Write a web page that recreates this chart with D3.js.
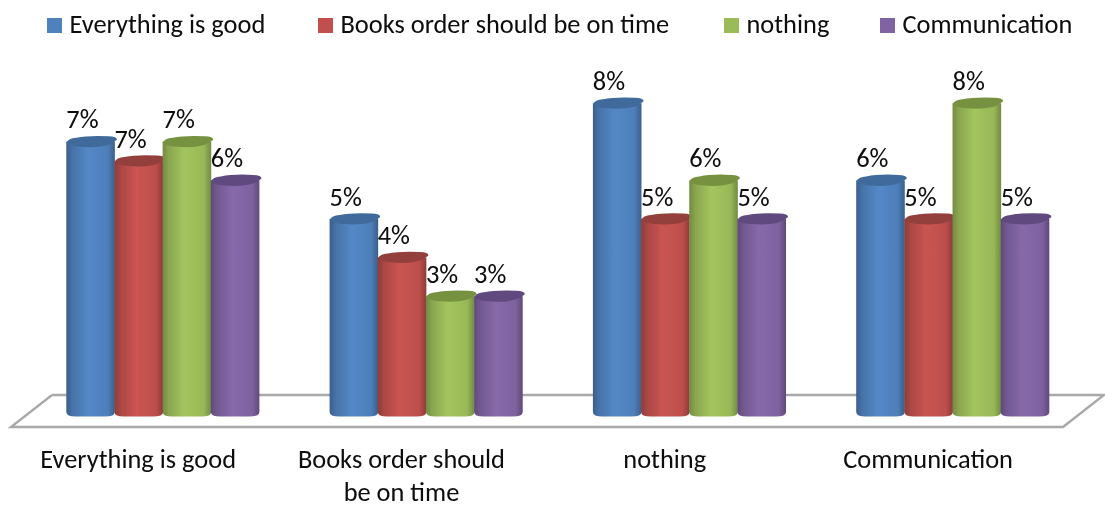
<!DOCTYPE html>
<html><head><meta charset="utf-8">
<script src="https://cdn.jsdelivr.net/npm/d3@7/dist/d3.min.js"></script>
<style>html,body{margin:0;padding:0;background:#fff;overflow:hidden}text{font-family:Carlito,Lato,"Open Sans",sans-serif;fill:#0a0a0a}</style>
</head><body><svg id="c" width="1105" height="507"></svg>
<script>
const categories = ["Everything is good","Books order should be on time","nothing","Communication"];
const seriesNames = ["Everything is good","Books order should be on time","nothing","Communication"];
const everythingGood = [7,5,8,6];
const booksOnTime = [6.5,4,5,5];
const nothingVals = [7,3,6,8];
const communication = [6,3,5,5];
const allSeries = [everythingGood,booksOnTime,nothingVals,communication];
const bodyColors = ["#4f81bd","#c0504d","#9bbb59","#8064a2"];
const capColors = ["#3f6a9b","#933f3c","#76923f","#5f4a7e"];
const legendX = [47,318,724,880];

const svg = d3.select("#c");
const fs = 26.4;
const defs = svg.append("defs");
const blur = defs.append("filter").attr("id","soft").attr("x","-5%").attr("y","-5%").attr("width","110%").attr("height","110%");
blur.append("feGaussianBlur").attr("stdDeviation",0.7);
const tblur = defs.append("filter").attr("id","softT");
tblur.append("feGaussianBlur").attr("stdDeviation",0.35);

bodyColors.forEach((c,i)=>{
  const g = defs.append("linearGradient").attr("id","g"+i);
  const base = d3.color(c);
  [[0,base.darker(0.85)],[0.12,base.darker(0.35)],[0.45,base.brighter(0.14)],[0.85,base.darker(0.05)],[1,base.darker(0.85)]]
    .forEach(([o,col])=>g.append("stop").attr("offset",o).attr("stop-color",col.formatHex()));
});

const x0 = d3.scaleBand().domain(d3.range(categories.length)).range([31,1084.2]);
const x1 = d3.scaleBand().domain(d3.range(seriesNames.length)).range([35.3,228]);
const y = d3.scaleLinear().domain([0,8]).range([412,103.2]);
const xLabel = d3.scaleBand().domain(categories).range([7,1060.2]);

// floor
const floor = d3.line()([[52,395],[1104,395],[1063,427],[11,427],[52,395]]);
svg.append("path").attr("d",floor).attr("fill","#fff").attr("stroke","#a9a9a9").attr("stroke-width",2.4).attr("filter","url(#soft)");

// bars
const bars = svg.append("g").attr("filter","url(#soft)");
const bw = x1.bandwidth();
categories.forEach((cat,ci)=>{
  allSeries.forEach((vals,si)=>{
    const left = x0(ci)+x1(si), top = y(vals[ci]), base = y(0), right = left+bw;
    const rx = bw/2, g = bars.append("g");
    g.append("path")
      .attr("d",`M${left},${top} V${base} Q${left},${base+4.5} ${left+rx*0.4},${base+4.5} H${left+rx*1.6} Q${right+0.4},${base+4.5} ${right+0.4},${base} V${top} Z`)
      .attr("fill",`url(#g${si})`);
    g.append("path")
      .attr("d",`M${left},${top+1} Q${left+2},${top-3.5} ${left+10},${top-4}
        Q${left+22},${top-6.5} ${right-6},${top-5.5}
        Q${right+2.5},${top-5.5} ${right+2.5},${top-2}
        Q${right-5},${top+5.5} ${left+rx},${top+5.5}
        Q${left+3},${top+5} ${left},${top+1} Z`)
      .attr("fill",capColors[si]);
  });
});

// data labels
const labels = svg.append("g").attr("filter","url(#softT)");
categories.forEach((cat,ci)=>{
  allSeries.forEach((vals,si)=>{
    labels.append("text").attr("x",x0(ci)+x1(si)+bw/2-8).attr("y",y(vals[ci])-13.5)
      .attr("text-anchor","middle").attr("font-size",fs).text(Math.round(vals[ci])+"%");
  });
});

// category axis
const axis = svg.append("g").attr("transform","translate(0,468)").attr("filter","url(#softT)")
  .call(d3.axisBottom(xLabel).tickSize(0).tickPadding(0).tickFormat(""));
axis.select(".domain").remove();
const wrapped = {"Books order should be on time":["Books order should","be on time"]};
axis.selectAll(".tick").each(function(d){
  const t = d3.select(this).select("text").attr("font-size",fs).attr("y",0).attr("dy",null).attr("text-anchor","middle");
  t.text(null);
  (wrapped[d]||[d]).forEach((l,i)=>t.append("tspan").attr("x",-0.5).attr("y",i*33).text(l));
});
axis.attr("font-family",null).attr("font-size",null);

// legend
const lg = svg.append("g").attr("filter","url(#softT)");
seriesNames.forEach((n,i)=>{
  lg.append("rect").attr("x",legendX[i]).attr("y",18).attr("width",15).attr("height",15).attr("fill",bodyColors[i]);
  lg.append("text").attr("x",legendX[i]+22.5).attr("y",33).attr("font-size",fs).text(n);
});
</script></body></html>
